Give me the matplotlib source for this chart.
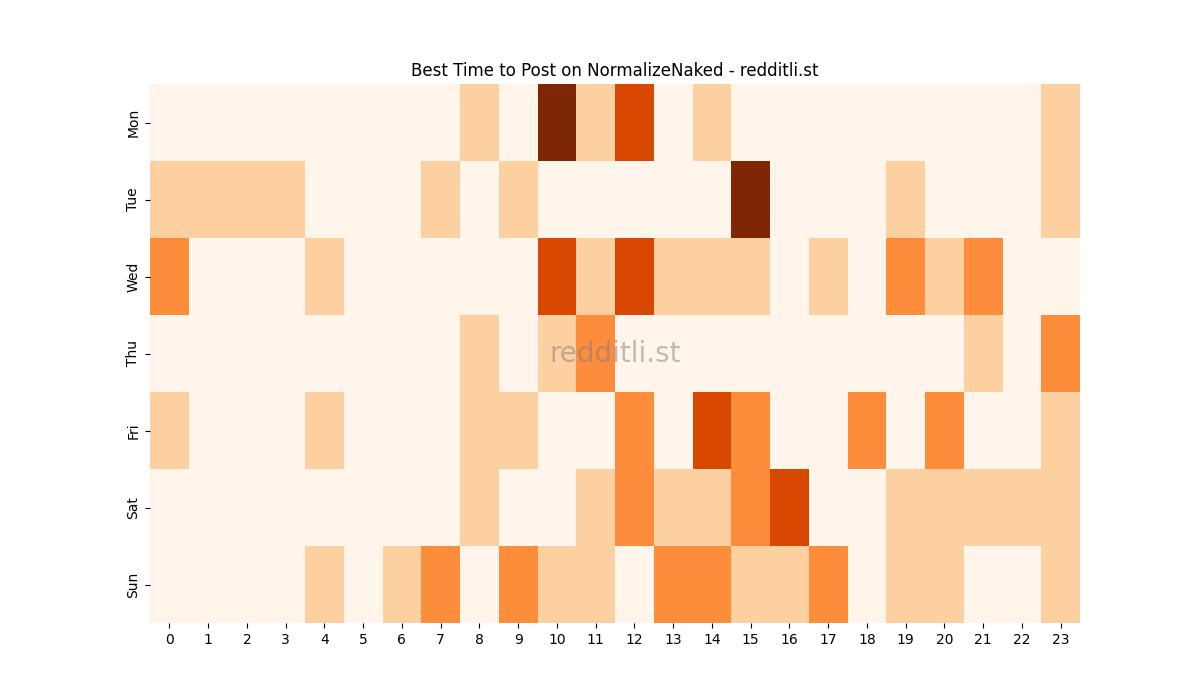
import matplotlib
matplotlib.use("Agg")
import matplotlib.pyplot as plt
import seaborn as sns
import numpy as np

days = ["Mon", "Tue", "Wed", "Thu", "Fri", "Sat", "Sun"]
hours = list(range(24))

mon = [0,0,0,0,0,0,0,0,1,0,4,1,3,0,1,0,0,0,0,0,0,0,0,1]
tue = [1,1,1,1,0,0,0,1,0,1,0,0,0,0,0,4,0,0,0,1,0,0,0,1]
wed = [2,0,0,0,1,0,0,0,0,0,3,1,3,1,1,1,0,1,0,2,1,2,0,0]
thu = [0,0,0,0,0,0,0,0,1,0,1,2,0,0,0,0,0,0,0,0,0,1,0,2]
fri = [1,0,0,0,1,0,0,0,1,1,0,0,2,0,3,2,0,0,2,0,2,0,0,1]
sat = [0,0,0,0,0,0,0,0,1,0,0,1,2,1,1,2,3,0,0,1,1,1,1,1]
sun = [0,0,0,0,1,0,1,2,0,2,1,1,0,2,2,1,1,2,0,1,1,0,0,1]

data = np.array([mon, tue, wed, thu, fri, sat, sun])

fig, ax = plt.subplots(figsize=(12, 7), dpi=100)
sns.heatmap(data, cmap="Oranges", cbar=False, ax=ax,
            xticklabels=hours, yticklabels=days, vmin=0, vmax=4)
ax.set_title("Best Time to Post on NormalizeNaked - redditli.st")
ax.text(0.5, 0.5, "redditli.st", transform=ax.transAxes, fontsize=20,
        color="gray", alpha=0.5, ha="center", va="center")
fig.savefig("out.png", dpi=100)
